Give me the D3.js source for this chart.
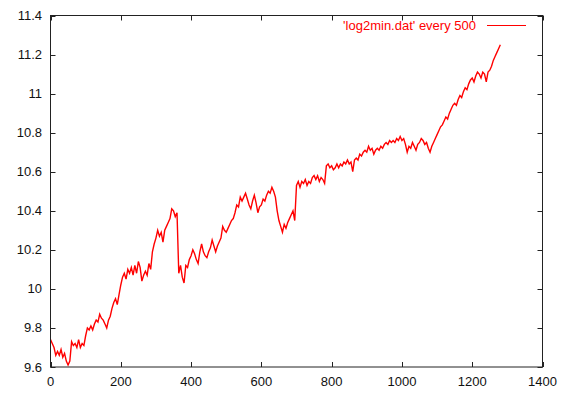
<!DOCTYPE html>
<html>
<head>
<meta charset="utf-8">
<script src="https://cdn.jsdelivr.net/npm/d3@7"></script>
<style>
  html, body { margin: 0; padding: 0; background: #fff; }
  svg { display: block; }
  text { font-family: "Liberation Sans", Arial, Helvetica, sans-serif; }
</style>
</head>
<body>
<svg id="chart" width="563" height="394"></svg>
<script>
// Sample index (every 500th record) and log2 of the minimum
const sampleIndex = d3.range(0, 1281, 5);
const log2Min = [
  9.74, 9.72, 9.70, 9.66, 9.68, 9.66, 9.69, 9.65, 9.67, 9.63,
  9.61, 9.63, 9.73, 9.71, 9.72, 9.70, 9.74, 9.70, 9.72, 9.71,
  9.76, 9.80, 9.79, 9.81, 9.79, 9.82, 9.84, 9.83, 9.87, 9.85,
  9.84, 9.82, 9.80, 9.84, 9.86, 9.90, 9.93, 9.95, 9.92, 9.97,
  10.02, 10.06, 10.08, 10.05, 10.10, 10.08, 10.11, 10.07, 10.12, 10.08,
  10.14, 10.11, 10.04, 10.07, 10.09, 10.07, 10.13, 10.10, 10.19, 10.23,
  10.26, 10.30, 10.27, 10.29, 10.24, 10.30, 10.32, 10.34, 10.36, 10.41,
  10.40, 10.37, 10.39, 10.08, 10.12, 10.06, 10.03, 10.12, 10.11, 10.15,
  10.17, 10.20, 10.18, 10.15, 10.13, 10.19, 10.23, 10.19, 10.17, 10.16,
  10.19, 10.21, 10.25, 10.22, 10.19, 10.22, 10.24, 10.26, 10.32, 10.30,
  10.29, 10.31, 10.33, 10.35, 10.36, 10.39, 10.43, 10.42, 10.47, 10.45,
  10.47, 10.49, 10.46, 10.43, 10.41, 10.45, 10.48, 10.44, 10.39, 10.42,
  10.43, 10.46, 10.45, 10.48, 10.50, 10.49, 10.52, 10.50, 10.47, 10.40,
  10.35, 10.32, 10.29, 10.33, 10.31, 10.34, 10.36, 10.38, 10.40, 10.35,
  10.53, 10.55, 10.52, 10.55, 10.54, 10.56, 10.53, 10.55, 10.54, 10.57,
  10.58, 10.56, 10.58, 10.55, 10.57, 10.56, 10.54, 10.63, 10.64, 10.62,
  10.63, 10.61, 10.62, 10.64, 10.62, 10.64, 10.63, 10.65, 10.64, 10.66,
  10.64, 10.65, 10.60, 10.66, 10.67, 10.66, 10.69, 10.68, 10.70, 10.71,
  10.70, 10.73, 10.71, 10.72, 10.69, 10.71, 10.72, 10.71, 10.73, 10.72,
  10.74, 10.75, 10.74, 10.76, 10.75, 10.76, 10.75, 10.77, 10.76, 10.78,
  10.76, 10.77, 10.74, 10.70, 10.73, 10.72, 10.75, 10.73, 10.71, 10.74,
  10.75, 10.77, 10.76, 10.74, 10.75, 10.72, 10.70, 10.73, 10.75, 10.77,
  10.79, 10.81, 10.83, 10.84, 10.86, 10.88, 10.87, 10.90, 10.92, 10.94,
  10.95, 10.94, 10.97, 10.99, 10.98, 11.01, 11.03, 11.02, 11.05, 11.07,
  11.08, 11.06, 11.09, 11.11, 11.10, 11.08, 11.11, 11.10, 11.06, 11.11,
  11.12, 11.14, 11.17, 11.19, 11.21, 11.23, 11.25
];
const xTicks = [0, 200, 400, 600, 800, 1000, 1200, 1400];
const yTicks = [9.6, 9.8, 10, 10.2, 10.4, 10.6, 10.8, 11, 11.2, 11.4];
const yTickLabels = ["9.6", "9.8", "10", "10.2", "10.4", "10.6", "10.8", "11", "11.2", "11.4"];
const seriesLabel = "'log2min.dat' every 500";

const svg = d3.select("#chart");
const plotLeft = 50.5, plotRight = 542.5, plotTop = 15.5, plotBottom = 367;

const x = d3.scaleLinear().domain([0, 1400]).range([plotLeft, plotRight]);
const y = d3.scaleLinear().domain([9.6, 11.4]).range([plotBottom, plotTop]);

const tickLen = 5;
const axisColor = "#222";
const g = svg.append("g");

// tick marks on all four sides, pointing inward
xTicks.forEach(t => {
  const px = Math.round(x(t)) + 0.5;
  g.append("line").attr("x1", px).attr("x2", px).attr("y1", plotBottom).attr("y2", plotBottom - tickLen)
    .attr("stroke", axisColor).attr("stroke-width", 1);
  g.append("line").attr("x1", px).attr("x2", px).attr("y1", plotTop).attr("y2", plotTop + tickLen)
    .attr("stroke", axisColor).attr("stroke-width", 1);
});
yTicks.forEach(t => {
  const py = Math.round(y(t)) + 0.5;
  g.append("line").attr("x1", plotLeft).attr("x2", plotLeft + tickLen).attr("y1", py).attr("y2", py)
    .attr("stroke", axisColor).attr("stroke-width", 1);
  g.append("line").attr("x1", plotRight).attr("x2", plotRight - tickLen).attr("y1", py).attr("y2", py)
    .attr("stroke", axisColor).attr("stroke-width", 1);
});

// tick labels
g.selectAll("text.xl").data(xTicks).enter().append("text")
  .attr("class", "xl")
  .attr("x", d => x(d)).attr("y", 386)
  .attr("text-anchor", "middle").attr("font-size", 13).attr("fill", "#111")
  .text(d => d);
g.selectAll("text.yl").data(yTicks).enter().append("text")
  .attr("class", "yl")
  .attr("x", 42).attr("y", d => y(d) + 4.5)
  .attr("text-anchor", "end").attr("font-size", 13).attr("fill", "#111")
  .text((d, i) => yTickLabels[i]);

// data line
const line = d3.line()
  .x((d, i) => x(sampleIndex[i]))
  .y(d => y(d));
svg.append("path")
  .datum(log2Min)
  .attr("fill", "none")
  .attr("stroke", "#ff0000")
  .attr("stroke-width", 1.4)
  .attr("stroke-linejoin", "miter")
  .attr("d", line);

// legend
svg.append("text")
  .attr("x", 476).attr("y", 30)
  .attr("text-anchor", "end").attr("font-size", 13).attr("fill", "#ff0000")
  .text(seriesLabel);
svg.append("line")
  .attr("x1", 487).attr("x2", 526).attr("y1", 25.5).attr("y2", 25.5)
  .attr("stroke", "#ff0000").attr("stroke-width", 1.2);

// plot border
svg.append("rect")
  .attr("x", plotLeft).attr("y", plotTop)
  .attr("width", plotRight - plotLeft).attr("height", plotBottom - plotTop)
  .attr("fill", "none").attr("stroke", axisColor).attr("stroke-width", 1);
</script>
</body>
</html>
